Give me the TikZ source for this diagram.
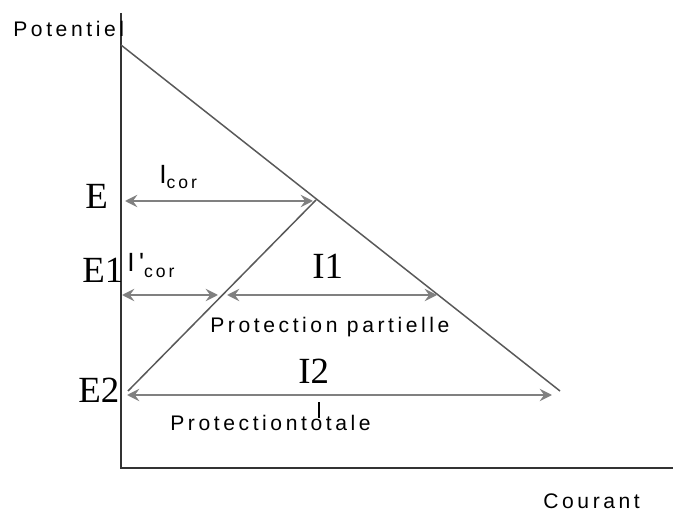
\documentclass[tikz,border=0pt]{standalone}
\usepackage{fontspec}
\setmainfont{Liberation Serif}
\newfontfamily\sflbl[LetterSpace=17]{Liberation Sans}
\usetikzlibrary{arrows.meta}

\begin{document}
\begin{tikzpicture}[x=0.02cm,y=-0.02cm,
  axe/.style={draw=black!80,line width=1.1pt},
  droite/.style={draw=black!65,line width=0.85pt},
  fleche/.style={draw=black!50,line width=1.1pt,
    {Stealth[length=7pt,width=7pt,inset=2.5pt]}-{Stealth[length=7pt,width=7pt,inset=2.5pt]}},
  grand/.style={font=\fontsize{21}{21}\selectfont,inner sep=0pt,anchor=base west},
  petit/.style={font=\sflbl\fontsize{12}{12}\selectfont,inner sep=0pt,anchor=base west}]
  \useasboundingbox (0,0) rectangle (673,513);
  % axes
  \coordinate (O) at (121,468);
  \coordinate (haut) at (121,13);
  \coordinate (droite) at (673,468);
  \draw[axe] (haut) -- (O) -- (droite);
  % droites
  \coordinate (A) at (121,45);
  \coordinate (B) at (560,391);
  \coordinate (C) at (128,391);
  \coordinate (D) at (316,200);
  \draw[droite] (A) -- (B);
  \draw[droite] (C) -- (D);
  % fleches
  \coordinate (e0) at (125,201);
  \coordinate (e1) at (313,201);
  \coordinate (f0) at (122,295);
  \coordinate (f1) at (218,295);
  \coordinate (f2) at (227,295);
  \coordinate (f3) at (437,295);
  \coordinate (g0) at (127,395);
  \coordinate (g1) at (552,395);
  \draw[fleche] (e0) -- (e1);
  \draw[fleche] (f0) -- (f1);
  \draw[fleche] (f2) -- (f3);
  \draw[fleche] (g0) -- (g1);
  \coordinate (t0) at (319,402);
  \coordinate (t1) at (319,418);
  \draw[black,line width=0.6pt] (t0) -- (t1);
  % textes
  \node[grand] (lE) at (85,209) {E};
  \node[grand] (lE1) at (82,283) {E1};
  \node[grand] (lE2) at (78,402) {E2};
  \node[grand] (lI1) at (312,278) {I1};
  \node[grand] (lI2) at (298,383) {I2};
  \node[petit] (pot) at (13,37) {Potentiel};
  \node[petit] (cour) at (543,508) {Courant};
  \node[petit] (part) at (210,333) {Protection partielle};
  \node[petit] (tot) at (170,430) {Protectiontotale};
  \node[petit] (icor) at (159,184) {{\fontsize{15}{15}\selectfont I}\raisebox{-2.5pt}{\fontsize{10}{10}\selectfont cor}};
  \node[petit] (ipcor) at (127,272) {{\fontsize{15}{15}\selectfont I'}\raisebox{-3pt}{\fontsize{10}{10}\selectfont cor}};
\end{tikzpicture}
\end{document}
